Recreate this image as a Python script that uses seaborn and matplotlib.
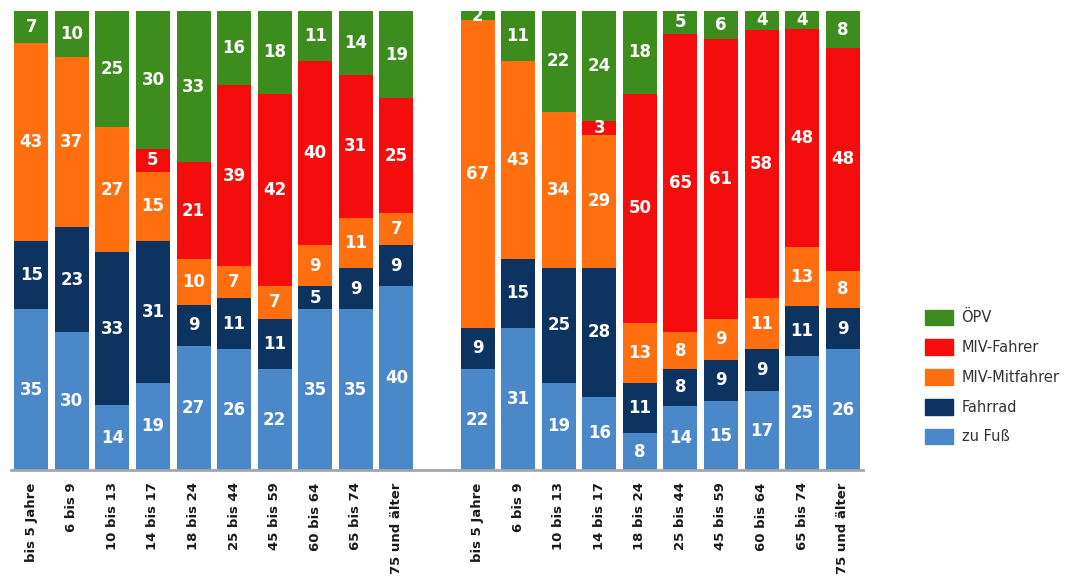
import matplotlib.pyplot as plt
import matplotlib.patches as mpatches
import pandas as pd
import seaborn as sns

ages = ["bis 5 Jahre", "6 bis 9", "10 bis 13", "14 bis 17", "18 bis 24",
        "25 bis 44", "45 bis 59", "60 bis 64", "65 bis 74", "75 und älter"]

modes = ["zu Fuß", "Fahrrad", "MIV-Mitfahrer", "MIV-Fahrer", "ÖPV"]
colors = ["#4a88c9", "#0d3460", "#ff6f0f", "#f50d0d", "#3d8c1e"]

# left group
left_fuss = [35, 30, 14, 19, 27, 26, 22, 35, 35, 40]
left_rad = [15, 23, 33, 31, 9, 11, 11, 5, 9, 9]
left_mit = [43, 37, 27, 15, 10, 7, 7, 9, 11, 7]
left_fahrer = [0, 0, 0, 5, 21, 39, 42, 40, 31, 25]
left_opv = [7, 10, 25, 30, 33, 16, 18, 11, 14, 19]

# right group
right_fuss = [22, 31, 19, 16, 8, 14, 15, 17, 25, 26]
right_rad = [9, 15, 25, 28, 11, 8, 9, 9, 11, 9]
right_mit = [67, 43, 34, 29, 13, 8, 9, 11, 13, 8]
right_fahrer = [0, 0, 0, 3, 50, 65, 61, 58, 48, 48]
right_opv = [2, 11, 22, 24, 18, 5, 6, 4, 4, 8]

left_keys = ["L" + str(i) for i in range(10)]
right_keys = ["R" + str(i) for i in range(10)]
order = left_keys + ["gap"] + right_keys

df = pd.DataFrame({
    "key": left_keys + right_keys,
    "zu Fuß": left_fuss + right_fuss,
    "Fahrrad": left_rad + right_rad,
    "MIV-Mitfahrer": left_mit + right_mit,
    "MIV-Fahrer": left_fahrer + right_fahrer,
    "ÖPV": left_opv + right_opv,
})
# 100% stacked: scale every bar to its own total
total = df[modes].sum(axis=1)
share = df[modes].div(total, axis=0) * 100
cum = share.cumsum(axis=1)

fig = plt.figure(figsize=(10.89, 5.85), dpi=100)
ax = fig.add_axes([11 / 1089, 1 - 470 / 585, (863 - 11) / 1089, (470 - 11) / 585])

# draw stacked bars from the top layer down
for mode, c in reversed(list(zip(modes, colors))):
    d = pd.DataFrame({"key": df["key"], "val": cum[mode]})
    sns.barplot(data=d, x="key", y="val", order=order, color=c,
                saturation=1, width=0.84, linewidth=0, ax=ax)

# value labels
pos = {k: i for i, k in enumerate(order)}
for i, row in df.iterrows():
    base = 0
    for mode in modes:
        v = row[mode]
        h = share.loc[i, mode]
        if v > 0:
            ax.text(pos[row["key"]], base + h / 2, str(v), ha="center", va="center",
                    color="white", fontsize=12, fontweight="bold")
        base += h

ax.set_xlim(-0.5, 20.5)
ax.set_ylim(0, 100)
ax.set_xticks(range(21))
ax.set_xticklabels(ages + [""] + ages, rotation=90, fontsize=9.5,
                   fontweight="bold", color="#1a1a1a")
ax.tick_params(axis="x", length=0, pad=9)
ax.set_yticks([])
ax.set_xlabel("")
ax.set_ylabel("")
for s in ["top", "right", "left"]:
    ax.spines[s].set_visible(False)
ax.spines["bottom"].set_color("#a6a6a6")
ax.spines["bottom"].set_linewidth(2)

handles = [mpatches.Patch(color=c, label=m) for m, c in zip(modes, colors)][::-1]
fig.legend(handles=handles, loc="center left", bbox_to_anchor=(912 / 1089, 1 - 377 / 585),
           frameon=False, fontsize=10.5, handlelength=1.9, handleheight=1.3,
           handletextpad=0.6, labelcolor="#333333", labelspacing=0.95)

fig.savefig("out.png", dpi=100)
